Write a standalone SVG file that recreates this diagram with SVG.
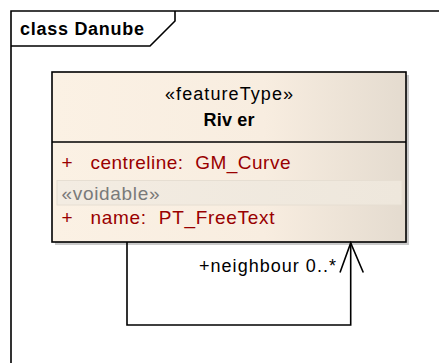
<svg xmlns="http://www.w3.org/2000/svg" width="439" height="363" viewBox="0 0 439 363">
  <defs>
    <linearGradient id="boxFill" x1="0" y1="0" x2="1" y2="0">
      <stop offset="0" stop-color="#FBF1E4"/>
      <stop offset="0.6" stop-color="#F8EDE0"/>
      <stop offset="1" stop-color="#E4DBCF"/>
    </linearGradient>
    <linearGradient id="bandFill" x1="0" y1="0" x2="1" y2="0">
      <stop offset="0" stop-color="#F3ECE2"/>
      <stop offset="1" stop-color="#EEE7DC"/>
    </linearGradient>
  </defs>
  <style>
    .line { fill: none; stroke: #000; stroke-width: 1.6; }
    .txt { font-family: "Liberation Sans", Arial, sans-serif; font-size: 18px; fill: #000; }
    .bold { font-weight: bold; }
    .attr { font-family: "Liberation Sans", Arial, sans-serif; font-size: 19px; fill: #990000; }
    .stereo { font-family: "Liberation Sans", Arial, sans-serif; font-size: 19px; fill: #7A7A7A; }
  </style>
  <rect width="439" height="363" fill="#FFFFFF"/>

  <g id="frame">
    <path class="line" d="M11,363 L11,11 L439,11"/>
    <path class="line" d="M175,11 L175,21 L150,46 L11,46"/>
    <text class="txt bold" x="20" y="35" font-size="19" textLength="124">class Danube</text>
  </g>

  <g id="River">
    <rect x="55" y="75" width="354" height="170" fill="#BDBDBD" opacity="0.8"/>
    <rect x="52" y="72" width="354" height="170" fill="url(#boxFill)" stroke="#000" stroke-width="1.6"/>
    <line x1="52" y1="142" x2="406" y2="142" stroke="#000" stroke-width="1.6"/>
    <text class="txt" x="229" y="100" text-anchor="middle" textLength="128">«featureType»</text>
    <text class="txt bold" x="229" y="125.5" text-anchor="middle" textLength="51">Riv er</text>
    <text class="attr" x="61.5" y="169">+</text>
    <text class="attr" x="90.5" y="169" textLength="200" xml:space="preserve">centreline:  GM_Curve</text>
    <rect x="57" y="180.5" width="345" height="24.5" fill="url(#bandFill)" stroke="#E6DED2" stroke-width="1"/>
    <text class="stereo" x="61.5" y="199.5" textLength="98">«voidable»</text>
    <text class="attr" x="61.5" y="224">+</text>
    <text class="attr" x="90.5" y="224" textLength="184" xml:space="preserve">name:  PT_FreeText</text>
  </g>

  <g id="connectors">
    <path class="line" d="M127,242 L127,325 L350.7,325 L350.7,243"/>
    <path class="line" d="M340,272.5 L350.7,243 L363.3,272.5"/>
    <text class="txt" x="336" y="272" text-anchor="end" textLength="137">+neighbour 0..*</text>
  </g>
</svg>
